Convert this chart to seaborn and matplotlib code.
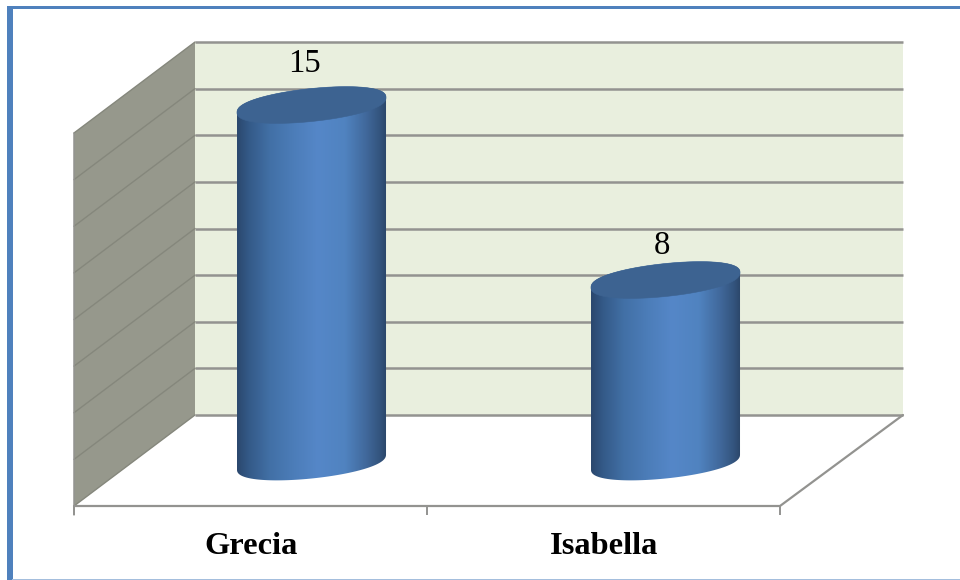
import numpy as np
import pandas as pd
import matplotlib
matplotlib.use("Agg")
import matplotlib.pyplot as plt
from matplotlib.colors import LinearSegmentedColormap
from matplotlib.patches import Polygon, Rectangle
from matplotlib.transforms import IdentityTransform
import seaborn as sns

names = ["Grecia", "Isabella"]
values = [15, 8]
grid_rows = 9

W, H = 960, 580
FLOOR_VALUE = 0.72      # where the cylinders stand on the floor
AXIS_MIN = -0.4         # leaves room for the curved base under the floor line

sns.set_theme(style="white", rc={"font.family": ["Liberation Serif", "DejaVu Serif"]})
fig = plt.figure(figsize=(W / 100, H / 100), dpi=100, facecolor="white")

# Room: frame, back wall, side wall and floor, laid out in figure pixels
room = fig.add_axes([0, 0, 1, 1], zorder=0)
room.set_xlim(0, W)
room.set_ylim(H, 0)
room.axis("off")

frame = "#4F81BD"
room.add_patch(Rectangle((7, 6), 5.5, 574, fc=frame, ec="none"))
room.add_patch(Rectangle((7, 6), 953, 3, fc=frame, ec="none"))
room.add_patch(Rectangle((12, 578.6), 948, 1.4, fc="#A4BEDD", ec="none"))

line = "#939390"
room.add_patch(Polygon([(195, 42), (903, 42), (903, 415), (195, 415)], fc="#E9EFDE", ec="none"))
room.add_patch(Polygon([(74, 133), (195, 42), (195, 415), (74, 506)], fc="#96988C", ec="none"))
for y in np.linspace(42, 415, grid_rows):
    room.plot([195, 903], [y, y], color=line, lw=1.8, solid_capstyle="butt")
    room.plot([74, 195], [y + 91, y], color="#85877C", lw=1.0)
room.plot([74, 74], [133, 515], color=line, lw=1.1)
room.plot([74, 780, 903], [506, 506, 415], color=line, lw=1.6)
for x in (74, 427, 780):
    room.plot([x, x], [506, 515], color=line, lw=1.4, solid_capstyle="butt")
for i, name in enumerate(names):
    room.text(251 + 353 * i, 547, name, ha="center", va="center",
              fontsize=23.4, fontweight="bold", color="black")

# Value axes: one category step is 354 px, one unit is 25 px
ax = fig.add_axes([134.5 / W, 1 - 490 / H, 708 / W, 410 / H], zorder=1)
ax.patch.set_alpha(0)
data = pd.DataFrame({"name": names, "value": values})
sns.barplot(data=data, x="name", y="value", width=0.421, ax=ax, color="#4F81BD")
ax.set_xlim(-0.5, 1.5)
ax.set_ylim(AXIS_MIN, 16)
ax.axis("off")

side = LinearSegmentedColormap.from_list(
    "cylinder",
    [(0.0, "#2B486E"), (0.08, "#345A88"), (0.22, "#4270A6"), (0.38, "#4C7DB9"),
     (0.54, "#5587C8"), (0.72, "#5083C0"), (0.86, "#41699C"), (0.95, "#34557F"),
     (1.0, "#2B4669")],
)
SHEAR, MINOR = 7.5, 16.5
label_offsets = [(-7.5, 41), (-3.5, 34)]
t = np.linspace(0, 2 * np.pi, 241)

for bar, value, offset in zip(ax.patches, values, label_offsets):
    cx_data = bar.get_x() + bar.get_width() / 2
    left_px, top_px = ax.transData.transform((bar.get_x(), bar.get_height()))
    right_px, floor_px = ax.transData.transform((bar.get_x() + bar.get_width(), FLOOR_VALUE))
    cx_px = (left_px + right_px) / 2
    major = (right_px - left_px) / 2

    def rim(cy, angle):
        # Tilted rim, slightly squared off towards its ends
        s = np.sin(angle)
        return np.column_stack([cx_px + major * np.cos(angle),
                                cy + SHEAR * np.cos(angle)
                                + MINOR * np.sign(s) * np.abs(s) ** 0.85])

    # Side of the cylinder: front half of the base joined to the front half of the lid
    front = np.vstack([rim(floor_px, np.linspace(0, -np.pi, 121)),
                       rim(top_px, np.linspace(np.pi, 0, 121))])
    body = Polygon(front, closed=True, transform=IdentityTransform(), fc="none", ec="none")
    ax.add_patch(body)
    bar.set_facecolor("none")
    bar.set_edgecolor("none")

    shade = ax.imshow(np.linspace(0, 1, 256)[None, :], cmap=side, aspect="auto",
                      extent=(bar.get_x(), bar.get_x() + bar.get_width(), AXIS_MIN, bar.get_height() + 1),
                      interpolation="bilinear", zorder=2)
    shade.set_clip_path(body)

    lid = Polygon(rim(top_px, t), closed=True, transform=IdentityTransform(),
                  fc="#3D6391", ec="#3D6391", lw=0.4, zorder=3)
    ax.add_patch(lid)

    ax.annotate(str(value), (cx_data, value), xytext=offset, textcoords="offset pixels",
                ha="center", va="center", fontsize=23.5, color="black", zorder=4)

ax.set_xlim(-0.5, 1.5)
ax.set_ylim(AXIS_MIN, 16)

fig.savefig("out.png", dpi=100)
